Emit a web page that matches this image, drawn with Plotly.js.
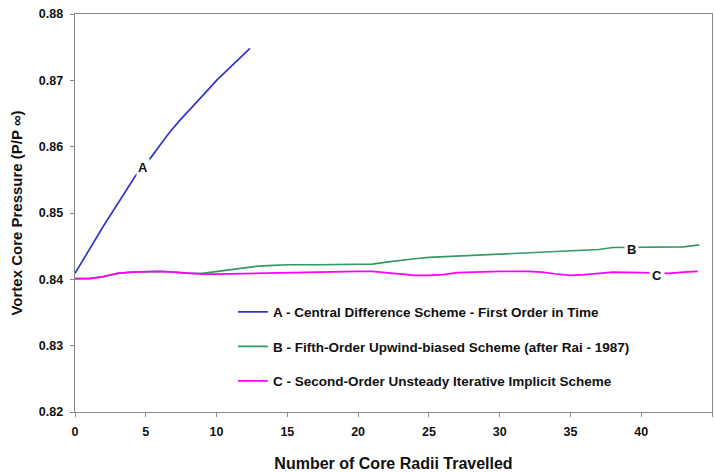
<!DOCTYPE html>
<html>
<head>
<meta charset="utf-8">
<script src="https://cdn.plot.ly/plotly-3.0.1.min.js"></script>
<style>html,body{margin:0;padding:0;background:#fff}#chart{width:715px;height:472px}</style>
</head>
<body>
<div id="chart"></div>
<script>
// Series A - Central Difference Scheme
const xA = [0, 0.5, 1, 1.5, 2, 2.6, 3.2, 3.8, 4.24, 4.8, 5.41, 6.0, 6.7, 7.42, 8.36, 9.2, 10.0, 11.0, 12.36];
const yA = [0.8409, 0.8427, 0.8445, 0.8463, 0.8480, 0.8500, 0.8520, 0.8541, 0.8555, 0.8570, 0.8585, 0.8602, 0.8622, 0.8640, 0.8661, 0.8681, 0.8700, 0.8721, 0.8748];

// Series B - Fifth-Order Upwind-biased Scheme
const xB = [0, 1, 2, 3, 4, 5, 6, 7, 8, 9, 10, 11, 12, 13, 14, 15, 17, 20, 21, 22, 23, 24, 25, 27, 29, 30, 32, 34, 35, 37, 38, 40, 42, 43, 44.1];
const yB = [0.8401, 0.8401, 0.8404, 0.8409, 0.8411, 0.8412, 0.8412, 0.8411, 0.8409, 0.8409, 0.8412, 0.8415, 0.8417, 0.8420, 0.8421, 0.8422, 0.8422, 0.8422, 0.8423, 0.8426, 0.8429, 0.8431, 0.8433, 0.8435, 0.8438, 0.8439, 0.8441, 0.8442, 0.8443, 0.8445, 0.8448, 0.8448, 0.8448, 0.8449, 0.8452];

// Series C - Second-Order Unsteady Iterative Implicit Scheme
const xC = [0, 1, 2, 3, 4, 5, 6, 7, 8, 9, 10, 12, 14, 16, 18, 20, 21, 22, 23, 24, 25, 26, 27, 28, 30, 32, 33, 34, 35, 36, 37, 38, 40, 41, 42, 43, 44];
const yC = [0.8401, 0.8401, 0.8404, 0.8409, 0.8411, 0.8412, 0.8412, 0.8411, 0.8409, 0.8408, 0.8408, 0.8409, 0.8410, 0.8411, 0.8412, 0.8412, 0.8412, 0.8410, 0.8408, 0.8406, 0.8406, 0.8407, 0.8410, 0.8411, 0.8412, 0.8412, 0.8411, 0.8408, 0.8406, 0.8407, 0.8409, 0.8411, 0.8410, 0.8409, 0.8409, 0.8411, 0.8412];

const names = [
  "A - Central Difference Scheme - First Order in Time",
  "B - Fifth-Order Upwind-biased Scheme (after Rai - 1987)",
  "C - Second-Order Unsteady Iterative Implicit Scheme"
];
const xTicks = [0, 5, 10, 15, 20, 25, 30, 35, 40, 45];
const yTicks = [0.82, 0.83, 0.84, 0.85, 0.86, 0.87, 0.88];
const yTickText = ["0.82", "0.83", "0.84", "0.85", "0.86", "0.87", "0.88"];

const FONT = "Liberation Sans, Arial, sans-serif";
const colors = ["#3333cc", "#339966", "#ff00ff"];

const traces = [
  {x: xA, y: yA, name: names[0], legendgroup: "a", mode: "lines", line: {color: colors[0], width: 1.7}},
  {x: xB, y: yB, name: names[1], legendgroup: "b", mode: "lines", line: {color: colors[1], width: 1.7}},
  {x: xC, y: yC, name: names[2], legendgroup: "c", mode: "lines", line: {color: colors[2], width: 1.7}}
];

const lblFont = {family: FONT, size: 13, color: "#111", weight: "bold"};
const layout = {
  width: 715, height: 472,
  margin: {l: 75, r: 3, t: 14, b: 60},
  paper_bgcolor: "#fff", plot_bgcolor: "#fff",
  showlegend: true,
  legend: {
    x: 0.248, y: 0.29, xanchor: "left", yanchor: "top",
    bgcolor: "rgba(0,0,0,0)", tracegroupgap: 14,
    font: {family: FONT, size: 13.5, color: "#111", weight: "bold"}
  },
  xaxis: {
    range: [0, 45], tickvals: xTicks, ticks: "outside", ticklen: 4, tickcolor: "#888",
    ticklabelstandoff: 4,
    showline: true, linecolor: "#888", linewidth: 1.3, mirror: true,
    showgrid: false, zeroline: false,
    tickfont: {family: FONT, size: 12.5, color: "#111", weight: "bold"},
    title: {text: "Number of Core Radii Travelled", standoff: 20,
            font: {family: FONT, size: 16, color: "#111", weight: "bold"}}
  },
  yaxis: {
    range: [0.82, 0.88], tickvals: yTicks, ticktext: yTickText, ticks: "outside", ticklen: 4, tickcolor: "#888",
    ticklabelstandoff: 4,
    showline: true, linecolor: "#888", linewidth: 1.3, mirror: true,
    showgrid: false, zeroline: false,
    tickfont: {family: FONT, size: 12.5, color: "#111", weight: "bold"},
    title: {text: "Vortex Core Pressure (P/P ∞)", standoff: 12,
            font: {family: FONT, size: 15, color: "#111", weight: "bold"}}
  },
  annotations: [
    {x: 4.82, y: 0.8568, text: "A", showarrow: false, font: lblFont, bgcolor: "#fff", borderpad: 1},
    {x: 39.31, y: 0.84456, text: "B", showarrow: false, font: lblFont, bgcolor: "#fff", borderpad: 2},
    {x: 41.08, y: 0.84063, text: "C", showarrow: false, font: lblFont, bgcolor: "#fff", borderpad: 2}
  ]
};

Plotly.newPlot("chart", traces, layout, {displayModeBar: false, staticPlot: true});
</script>
</body>
</html>
